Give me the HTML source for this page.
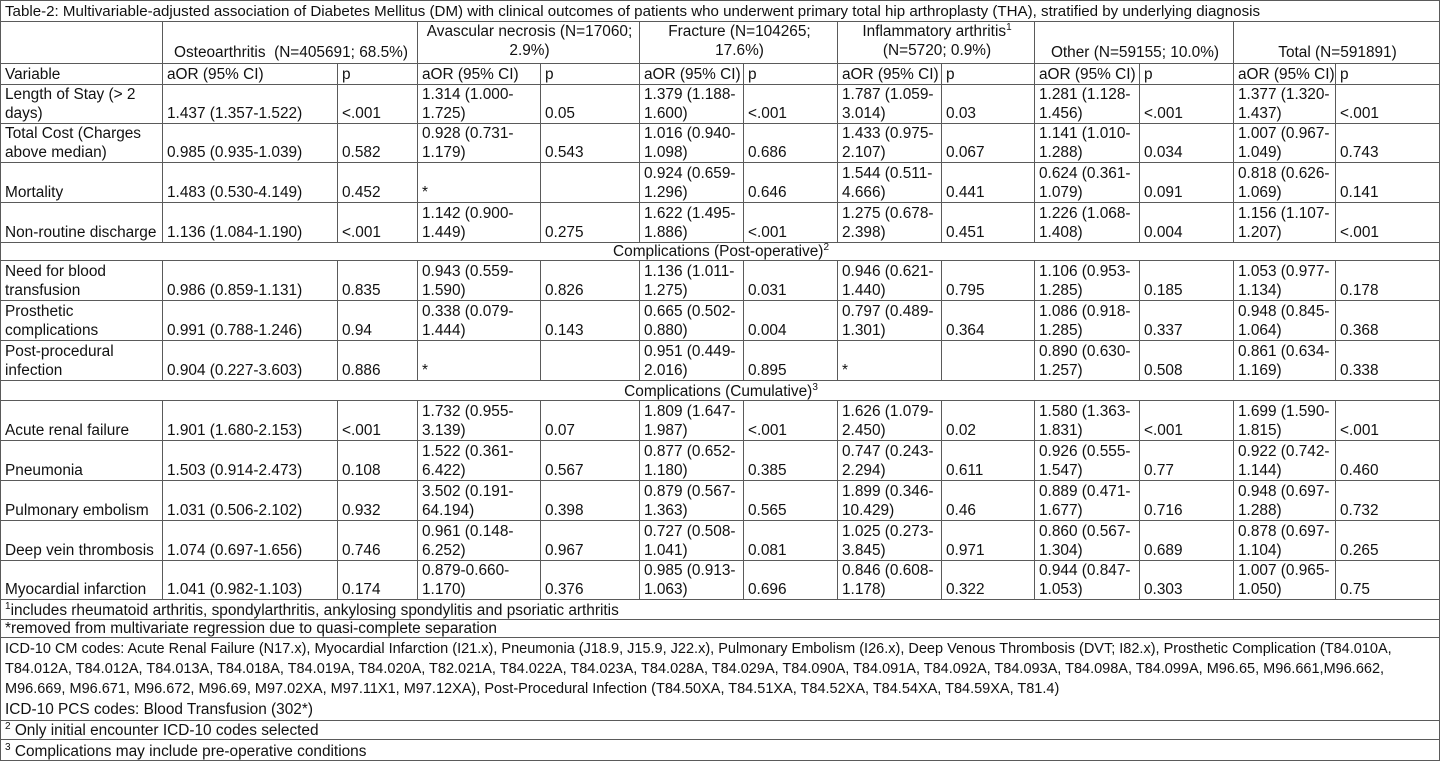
<!DOCTYPE html>
<html><head><meta charset="utf-8">
<style>
html,body{margin:0;padding:0;background:#fff;}
body{width:1440px;height:762px;overflow:hidden;}
table{border-collapse:collapse;table-layout:fixed;width:1439px;font-family:"Liberation Sans",Arial,sans-serif;font-size:15.4px;color:#111;}
td{border:1px solid #5a5a5a;padding:0 2px 0 4px;vertical-align:bottom;line-height:19px;white-space:nowrap;overflow:hidden;}
td.c{text-align:center;}
tr.s td{line-height:17px;}
sup{font-size:10px;line-height:0;vertical-align:baseline;position:relative;top:-6px;}
</style></head><body>
<table>
<colgroup>
<col style="width:162px"><col style="width:175px"><col style="width:80px"><col style="width:123px"><col style="width:99px"><col style="width:104px"><col style="width:94px"><col style="width:104px"><col style="width:93px"><col style="width:105px"><col style="width:94px"><col style="width:102px"><col style="width:104px">
</colgroup>
<tr style="height:21px"><td colspan="13" style="vertical-align:middle;font-size:15.1px;line-height:19px">Table-2: Multivariable-adjusted association of Diabetes Mellitus (DM) with clinical outcomes of patients who underwent primary total hip arthroplasty (THA), stratified by underlying diagnosis</td></tr>
<tr style="height:42px"><td></td><td colspan="2" class="c" style="padding-bottom:1px">Osteoarthritis&nbsp; (N=405691; 68.5%)</td><td colspan="2" class="c" style="padding-bottom:3px">Avascular necrosis (N=17060;<br>2.9%)</td><td colspan="2" class="c" style="padding-bottom:3px">Fracture (N=104265;<br>17.6%)</td><td colspan="2" class="c" style="padding-bottom:3px">Inflammatory arthritis<sup>1</sup><br>(N=5720; 0.9%)</td><td colspan="2" class="c" style="padding-bottom:1px">Other (N=59155; 10.0%)</td><td colspan="2" class="c" style="padding-bottom:1px">Total (N=591891)</td></tr>
<tr style="height:21px"><td>Variable</td><td>aOR (95% CI)</td><td>p</td><td>aOR (95% CI)</td><td>p</td><td>aOR (95% CI)</td><td>p</td><td>aOR (95% CI)</td><td>p</td><td>aOR (95% CI)</td><td>p</td><td>aOR (95% CI)</td><td>p</td></tr>
<tr style="height:39px"><td>Length of Stay (&gt; 2<br>days)</td><td>1.437 (1.357-1.522)</td><td>&lt;.001</td><td>1.314 (1.000-<br>1.725)</td><td>0.05</td><td>1.379 (1.188-<br>1.600)</td><td>&lt;.001</td><td>1.787 (1.059-<br>3.014)</td><td>0.03</td><td>1.281 (1.128-<br>1.456)</td><td>&lt;.001</td><td>1.377 (1.320-<br>1.437)</td><td>&lt;.001</td></tr>
<tr style="height:39px"><td>Total Cost (Charges<br>above median)</td><td>0.985 (0.935-1.039)</td><td>0.582</td><td>0.928 (0.731-<br>1.179)</td><td>0.543</td><td>1.016 (0.940-<br>1.098)</td><td>0.686</td><td>1.433 (0.975-<br>2.107)</td><td>0.067</td><td>1.141 (1.010-<br>1.288)</td><td>0.034</td><td>1.007 (0.967-<br>1.049)</td><td>0.743</td></tr>
<tr style="height:40px"><td>Mortality</td><td>1.483 (0.530-4.149)</td><td>0.452</td><td>*</td><td></td><td>0.924 (0.659-<br>1.296)</td><td>0.646</td><td>1.544 (0.511-<br>4.666)</td><td>0.441</td><td>0.624 (0.361-<br>1.079)</td><td>0.091</td><td>0.818 (0.626-<br>1.069)</td><td>0.141</td></tr>
<tr style="height:40px"><td>Non-routine discharge</td><td>1.136 (1.084-1.190)</td><td>&lt;.001</td><td>1.142 (0.900-<br>1.449)</td><td>0.275</td><td>1.622 (1.495-<br>1.886)</td><td>&lt;.001</td><td>1.275 (0.678-<br>2.398)</td><td>0.451</td><td>1.226 (1.068-<br>1.408)</td><td>0.004</td><td>1.156 (1.107-<br>1.207)</td><td>&lt;.001</td></tr>
<tr class="s" style="height:18px"><td colspan="13" class="c">Complications (Post-operative)<sup>2</sup></td></tr>
<tr style="height:40px"><td>Need for blood<br>transfusion</td><td>0.986 (0.859-1.131)</td><td>0.835</td><td>0.943 (0.559-<br>1.590)</td><td>0.826</td><td>1.136 (1.011-<br>1.275)</td><td>0.031</td><td>0.946 (0.621-<br>1.440)</td><td>0.795</td><td>1.106 (0.953-<br>1.285)</td><td>0.185</td><td>1.053 (0.977-<br>1.134)</td><td>0.178</td></tr>
<tr style="height:40px"><td>Prosthetic<br>complications</td><td>0.991 (0.788-1.246)</td><td>0.94</td><td>0.338 (0.079-<br>1.444)</td><td>0.143</td><td>0.665 (0.502-<br>0.880)</td><td>0.004</td><td>0.797 (0.489-<br>1.301)</td><td>0.364</td><td>1.086 (0.918-<br>1.285)</td><td>0.337</td><td>0.948 (0.845-<br>1.064)</td><td>0.368</td></tr>
<tr style="height:40px"><td>Post-procedural<br>infection</td><td>0.904 (0.227-3.603)</td><td>0.886</td><td>*</td><td></td><td>0.951 (0.449-<br>2.016)</td><td>0.895</td><td>*</td><td></td><td>0.890 (0.630-<br>1.257)</td><td>0.508</td><td>0.861 (0.634-<br>1.169)</td><td>0.338</td></tr>
<tr class="s" style="height:20px"><td colspan="13" class="c">Complications (Cumulative)<sup>3</sup></td></tr>
<tr style="height:40px"><td>Acute renal failure</td><td>1.901 (1.680-2.153)</td><td>&lt;.001</td><td>1.732 (0.955-<br>3.139)</td><td>0.07</td><td>1.809 (1.647-<br>1.987)</td><td>&lt;.001</td><td>1.626 (1.079-<br>2.450)</td><td>0.02</td><td>1.580 (1.363-<br>1.831)</td><td>&lt;.001</td><td>1.699 (1.590-<br>1.815)</td><td>&lt;.001</td></tr>
<tr style="height:40px"><td>Pneumonia</td><td>1.503 (0.914-2.473)</td><td>0.108</td><td>1.522 (0.361-<br>6.422)</td><td>0.567</td><td>0.877 (0.652-<br>1.180)</td><td>0.385</td><td>0.747 (0.243-<br>2.294)</td><td>0.611</td><td>0.926 (0.555-<br>1.547)</td><td>0.77</td><td>0.922 (0.742-<br>1.144)</td><td>0.460</td></tr>
<tr style="height:40px"><td>Pulmonary embolism</td><td>1.031 (0.506-2.102)</td><td>0.932</td><td>3.502 (0.191-<br>64.194)</td><td>0.398</td><td>0.879 (0.567-<br>1.363)</td><td>0.565</td><td>1.899 (0.346-<br>10.429)</td><td>0.46</td><td>0.889 (0.471-<br>1.677)</td><td>0.716</td><td>0.948 (0.697-<br>1.288)</td><td>0.732</td></tr>
<tr style="height:40px"><td>Deep vein thrombosis</td><td>1.074 (0.697-1.656)</td><td>0.746</td><td>0.961 (0.148-<br>6.252)</td><td>0.967</td><td>0.727 (0.508-<br>1.041)</td><td>0.081</td><td>1.025 (0.273-<br>3.845)</td><td>0.971</td><td>0.860 (0.567-<br>1.304)</td><td>0.689</td><td>0.878 (0.697-<br>1.104)</td><td>0.265</td></tr>
<tr style="height:38px"><td>Myocardial infarction</td><td>1.041 (0.982-1.103)</td><td>0.174</td><td>0.879-0.660-<br>1.170)</td><td>0.376</td><td>0.985 (0.913-<br>1.063)</td><td>0.696</td><td>0.846 (0.608-<br>1.178)</td><td>0.322</td><td>0.944 (0.847-<br>1.053)</td><td>0.303</td><td>1.007 (0.965-<br>1.050)</td><td>0.75</td></tr>
<tr class="s" style="height:20px"><td colspan="13"><sup>1</sup>includes rheumatoid arthritis, spondylarthritis, ankylosing spondylitis and psoriatic arthritis</td></tr>
<tr class="s" style="height:18px"><td colspan="13">*removed from multivariate regression due to quasi-complete separation</td></tr>
<tr style="height:83px"><td colspan="13" style="line-height:20.3px;font-size:14.5px">ICD-10 CM codes: Acute Renal Failure (N17.x), Myocardial Infarction (I21.x), Pneumonia (J18.9, J15.9, J22.x), Pulmonary Embolism (I26.x), Deep Venous Thrombosis (DVT; I82.x), Prosthetic Complication (T84.010A,<br>T84.012A, T84.012A, T84.013A, T84.018A, T84.019A, T84.020A, T82.021A, T84.022A, T84.023A, T84.028A, T84.029A, T84.090A, T84.091A, T84.092A, T84.093A, T84.098A, T84.099A, M96.65, M96.661,M96.662,<br>M96.669, M96.671, M96.672, M96.69, M97.02XA, M97.11X1, M97.12XA), Post-Procedural Infection (T84.50XA, T84.51XA, T84.52XA, T84.54XA, T84.59XA, T81.4)<br><span style="font-size:15.4px">ICD-10 PCS codes: Blood Transfusion (302*)</span></td></tr>
<tr class="s" style="height:19px"><td colspan="13"><sup>2</sup> Only initial encounter ICD-10 codes selected</td></tr>
<tr class="s" style="height:21px"><td colspan="13"><sup>3</sup> Complications may include pre-operative conditions</td></tr>
</table>
</body></html>
